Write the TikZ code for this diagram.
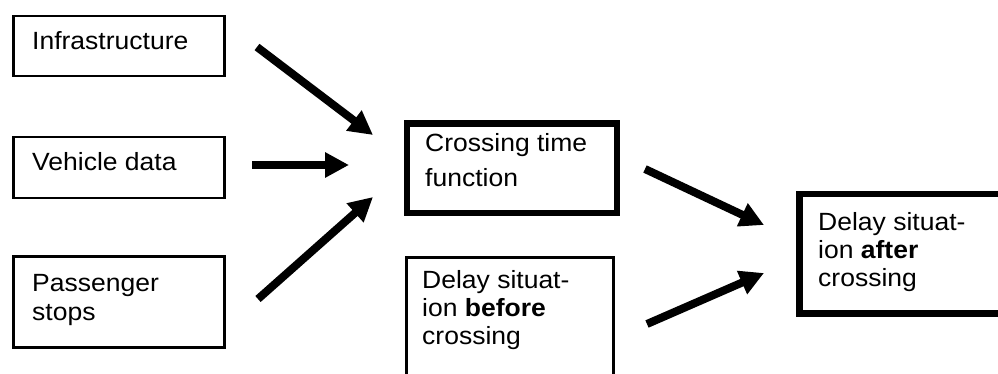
\documentclass[tikz,border=0pt]{standalone}
\usepackage{fontspec}
\setmainfont{Liberation Sans}
\usepackage{graphicx}
\usetikzlibrary{arrows.meta}

% Text block: lines of a left-aligned tabular, slightly compressed vertically
\newcommand\txtblock[2]{%
  \scalebox{1}[0.94]{\fontsize{26.5}{#1}\selectfont
    \begin{tabular}[t]{@{}l@{}}#2\end{tabular}}}

\tikzset{
  thinbox/.style={draw=black, line width=2.5pt},
  thickbox/.style={draw=black, line width=6.5pt},
  label/.style={anchor=base west, inner sep=0pt},
  flow/.style={line width=8pt, -{Triangle[length=24pt,width=24pt]}},
}

\begin{document}
\begin{tikzpicture}[x=1pt, y=-1pt]
  \useasboundingbox (0,0) rectangle (998,374);
  \clip (0,0) rectangle (998,374);

  % Input boxes
  \node[thinbox, anchor=north west, minimum width=211pt, minimum height=60pt] (infra) at (12,15) {};
  \node[thinbox, anchor=north west, minimum width=211pt, minimum height=61pt] (vehicle) at (12,136) {};
  \node[thinbox, anchor=north west, minimum width=211pt, minimum height=91pt] (stops) at (12,255) {};

  % Central boxes
  \node[thickbox, anchor=north west, minimum width=210pt, minimum height=89pt] (crossing) at (403.5,120.5) {};
  \node[thinbox, anchor=north west, minimum width=207pt, minimum height=140pt] (before) at (405,256) {};

  % Result box (runs past the right edge)
  \node[thickbox, anchor=north west, minimum width=230pt, minimum height=119pt] (after) at (796,191) {};

  % Labels
  \node[label] (infraT) at (32,50) {\txtblock{31}{Infrastructure}};
  \node[label] (vehicleT) at (32,171) {\txtblock{31}{Vehicle data}};
  \node[label] (stopsT) at (32,291) {\txtblock{30.9}{Passenger\\stops}};
  \node[label] (crossingT) at (425,152) {\txtblock{36.2}{Crossing time\\function}};
  \node[label] (beforeT) at (422,288) {\txtblock{30.3}{Delay situat-\\ion \textbf{before}\\crossing}};
  \node[label] (afterT) at (818,230) {\txtblock{30.3}{Delay situat-\\ion \textbf{after}\\crossing}};

  % Arrow end points
  \coordinate (a1s) at (257,47);
  \coordinate (a1e) at (373,135);
  \coordinate (a2s) at (252,165);
  \coordinate (a2e) at (349,165);
  \coordinate (a3s) at (258,299);
  \coordinate (a3e) at (373,197);
  \coordinate (a4s) at (645,169);
  \coordinate (a4e) at (764,225);
  \coordinate (a5s) at (647,324);
  \coordinate (a5e) at (764,273);

  % Arrows
  \draw[flow] (a1s) -- (a1e);
  \draw[flow] (a2s) -- (a2e);
  \draw[flow] (a3s) -- (a3e);
  \draw[flow] (a4s) -- (a4e);
  \draw[flow] (a5s) -- (a5e);
\end{tikzpicture}
\end{document}
